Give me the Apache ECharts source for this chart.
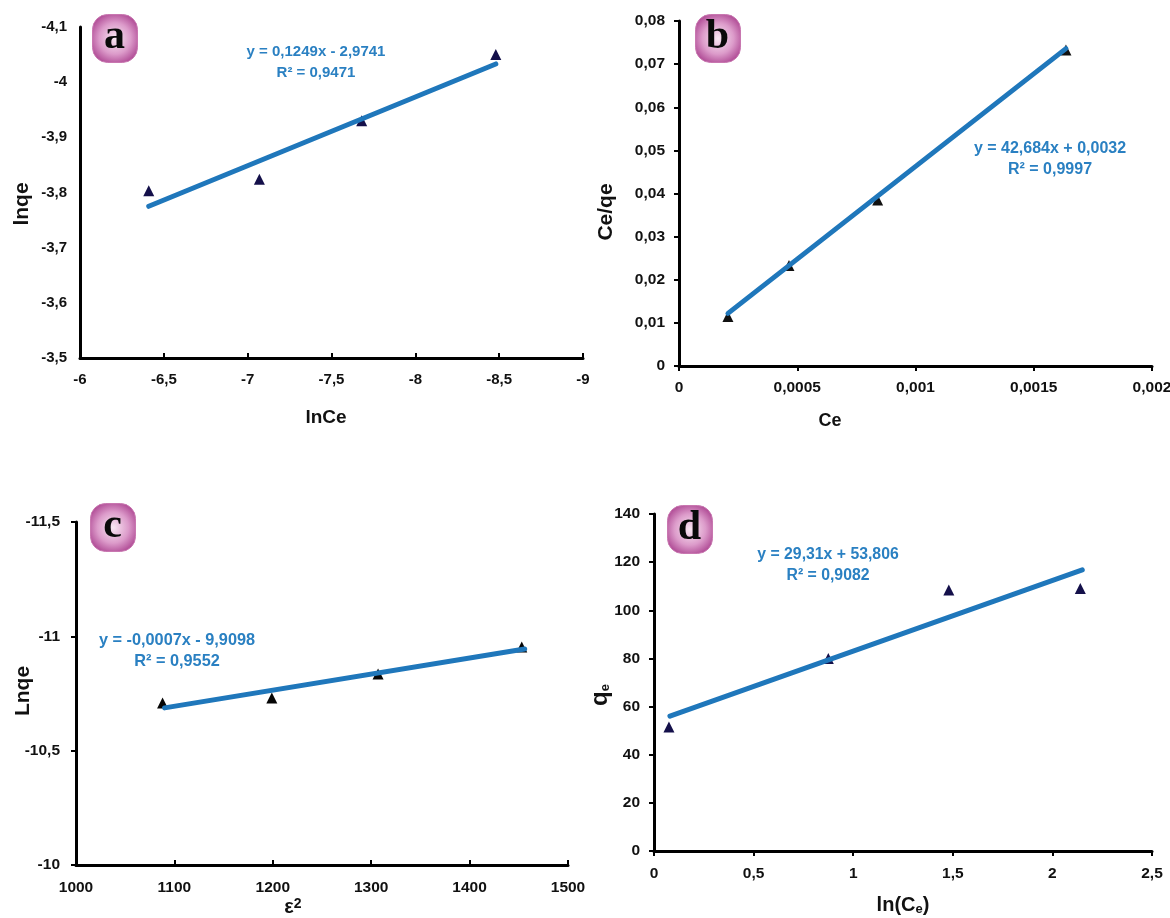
<!DOCTYPE html>
<html><head><meta charset="utf-8">
<style>html,body{margin:0;padding:0;background:#fff}#c{width:1170px;height:918px;filter:blur(0.35px)}</style>
<script src="https://cdn.jsdelivr.net/npm/echarts@6/dist/echarts.min.js"></script>
</head><body><div id="c"></div>
<script>
// Panel a
const aPointsX=[-6.41,-7.07,-7.68,-8.48];
const aPointsY=[-3.803,-3.824,-3.93,-4.05];
const aFitX=[-6.41,-8.48];
const aFitY=[-3.775,-4.033];
// Panel b
const bPointsX=[0.000207,0.000465,0.00084,0.001636];
const bPointsY=[0.0115,0.0233,0.0385,0.0733];
const bFitX=[0.000207,0.001636];
const bFitY=[0.0122,0.0736];
// Panel c
const cPointsX=[1088,1199,1307,1453];
const cPointsY=[-10.708,-10.73,-10.835,-10.953];
const cFitX=[1090,1456];
const cFitY=[-10.687,-10.945];
// Panel d
const dPointsX=[0.075,0.875,1.48,2.14];
const dPointsY=[51.5,80,108.4,109];
const dFitX=[0.08,2.15];
const dFitY=[56,116.8];

const panelLetters=['a','b','c','d'];
const equations=[
 'y = 0,1249x - 2,9741\nR² = 0,9471',
 'y = 42,684x + 0,0032\nR² = 0,9997',
 'y = -0,0007x - 9,9098\nR² = 0,9552',
 'y = 29,31x + 53,806\nR² = 0,9082'];

const comma=v=>String(+v.toFixed(6)).replace('.',',');
const FONT='"Liberation Sans",Arial,sans-serif';
const BLUE='#1f77bb', NAVY='#14104a';

const panels=[
 {l:80,t:27,r:583,b:358,x:[-9,-6,0.5],y:[-4.1,-3.5,0.1],inv:true,px:aPointsX,py:aPointsY,fx:aFitX,fy:aFitY,
  xn:'lnCe',yn:'lnqe',xs:19,ys:21,xg:50,yg:47,xShift:11,yShift:23,tickIn:true,yTick:false,mark:NAVY,
  font:15,xm:14,ym:13,eqFont:15},
 {l:679,t:21,r:1152,b:366,x:[0,0.002,0.0005],y:[0,0.08,0.01],px:bPointsX,py:bPointsY,fx:bFitX,fy:bFitY,
  xn:'Ce',yn:'Ce/qe',xs:18,ys:21,xg:46,yg:62,xShift:171,yShift:37,tickIn:false,yTick:true,mark:'#111',
  font:15.5,xm:14,ym:14,eqFont:16},
 {l:76,t:522,r:568,b:865,x:[1000,1500,100],y:[-11.5,-10,0.5],invY:true,px:cPointsX,py:cPointsY,fx:cFitX,fy:cFitY,
  xn:'{n|ε}{s|2}',yn:'Lnqe',xs:20,ys:21,xg:32,yg:42,xShift:58,yShift:-5,tickIn:true,yTick:true,mark:'#050505',
  font:15.5,xm:15,ym:16,eqFont:16.3},
 {l:654,t:514,r:1152,b:851,x:[0,2.5,0.5],y:[0,140,20],px:dPointsX,py:dPointsY,fx:dFitX,fy:dFitY,
  xn:'{n|ln(C}{u|e}{n|)}',yn:'{m|q}{u|e}',xs:20,ys:24,xg:43,yg:42,xShift:0,yShift:25,tickIn:false,yTick:true,mark:NAVY,
  font:15.5,xm:15,ym:14,eqFont:15.8}
];

const badges=[[92,14],[695,14],[90,503],[667,505]];
const eqPos=[[316,41],[1050,138],[177,630],[828,544]];

const grid=[],xAxis=[],yAxis=[],series=[],graphic=[];
panels.forEach((p,i)=>{
 grid.push({left:p.l,top:p.t,width:p.r-p.l,height:p.b-p.t,containLabel:false,outerBoundsMode:'none'});
 const line={onZero:false,lineStyle:{color:'#000',width:3}};
 const rich={n:{fontFamily:FONT,fontWeight:'bold',fontSize:p.xs,color:'#111'},
             m:{fontFamily:FONT,fontWeight:'bold',fontSize:p.ys,color:'#111'},
             u:{fontFamily:FONT,fontWeight:'bold',fontSize:13,color:'#111',verticalAlign:'bottom',padding:[9,0,0,0]},
             s:{fontFamily:FONT,fontWeight:'bold',fontSize:14,color:'#111',verticalAlign:'top',padding:[0,0,7,0]}};
 xAxis.push({gridIndex:i,type:'value',min:p.x[0],max:p.x[1],interval:p.x[2],inverse:!!p.inv,position:'bottom',
  axisLine:line,splitLine:{show:false},
  axisTick:{show:true,inside:p.tickIn,length:5,lineStyle:{color:'#000',width:2}},
  axisLabel:{formatter:comma,margin:p.xm,fontFamily:FONT,fontWeight:'bold',fontSize:p.font,color:'#111'},
  name:p.xn,nameLocation:'middle',nameGap:p.xg,nameMoveOverlap:false,
  nameTextStyle:{fontFamily:FONT,fontWeight:'bold',fontSize:p.xs,color:'#111',rich,padding:[0,p.xShift,0,0]}});
 const up=p.yShift>0?p.yShift:0, dn=p.yShift<0?-p.yShift:0;
 yAxis.push({gridIndex:i,type:'value',min:p.y[0],max:p.y[1],interval:p.y[2],inverse:!!(p.inv||p.invY),position:'left',
  axisLine:line,splitLine:{show:false},
  axisTick:{show:p.yTick,inside:false,length:5,lineStyle:{color:'#000',width:2}},
  axisLabel:{formatter:comma,margin:p.ym,fontFamily:FONT,fontWeight:'bold',fontSize:p.font,color:'#111'},
  name:p.yn,nameLocation:'middle',nameGap:p.yg,nameMoveOverlap:false,
  nameTextStyle:{fontFamily:FONT,fontWeight:'bold',fontSize:p.ys,color:'#111',rich,padding:[0,up,0,dn]}});
 series.push({type:'scatter',xAxisIndex:i,yAxisIndex:i,symbol:'triangle',symbolSize:11,z:2,
  itemStyle:{color:p.mark,opacity:1},data:p.px.map((v,k)=>[v,p.py[k]])});
 series.push({type:'line',xAxisIndex:i,yAxisIndex:i,showSymbol:false,symbol:'none',z:3,
  lineStyle:{color:BLUE,width:5,cap:'round'},data:p.fx.map((v,k)=>[v,p.fy[k]])});
 const [bx,by]=badges[i];
 graphic.push({type:'rect',left:bx,top:by,z:5,shape:{width:45,height:48,r:15},
  style:{fill:{type:'radial',x:0.5,y:0.5,r:0.62,colorStops:[{offset:0,color:'#f9e8f3'},{offset:0.55,color:'#dc9bca'},{offset:1,color:'#a83d8c'}]},stroke:'#c877b0',lineWidth:1}});
 graphic.push({type:'text',z:6,x:bx+22.5,y:by+23,style:{text:panelLetters[i],align:'center',verticalAlign:'middle',
  font:'bold 42px "Liberation Serif","Times New Roman",serif',fill:'#0a0a0a'}});
 const [ex,ey]=eqPos[i];
 graphic.push({type:'text',z:6,x:ex,y:ey,style:{text:equations[i],align:'center',verticalAlign:'top',lineHeight:21,
  font:'bold '+p.eqFont+'px '+FONT,fill:'#2a80c2'}});
});
const chart=echarts.init(document.getElementById('c'),null,{renderer:'canvas'});
chart.setOption({animation:false,backgroundColor:'#fff',grid,xAxis,yAxis,series,graphic,tooltip:{show:false},legend:{show:false}});
</script></body></html>
